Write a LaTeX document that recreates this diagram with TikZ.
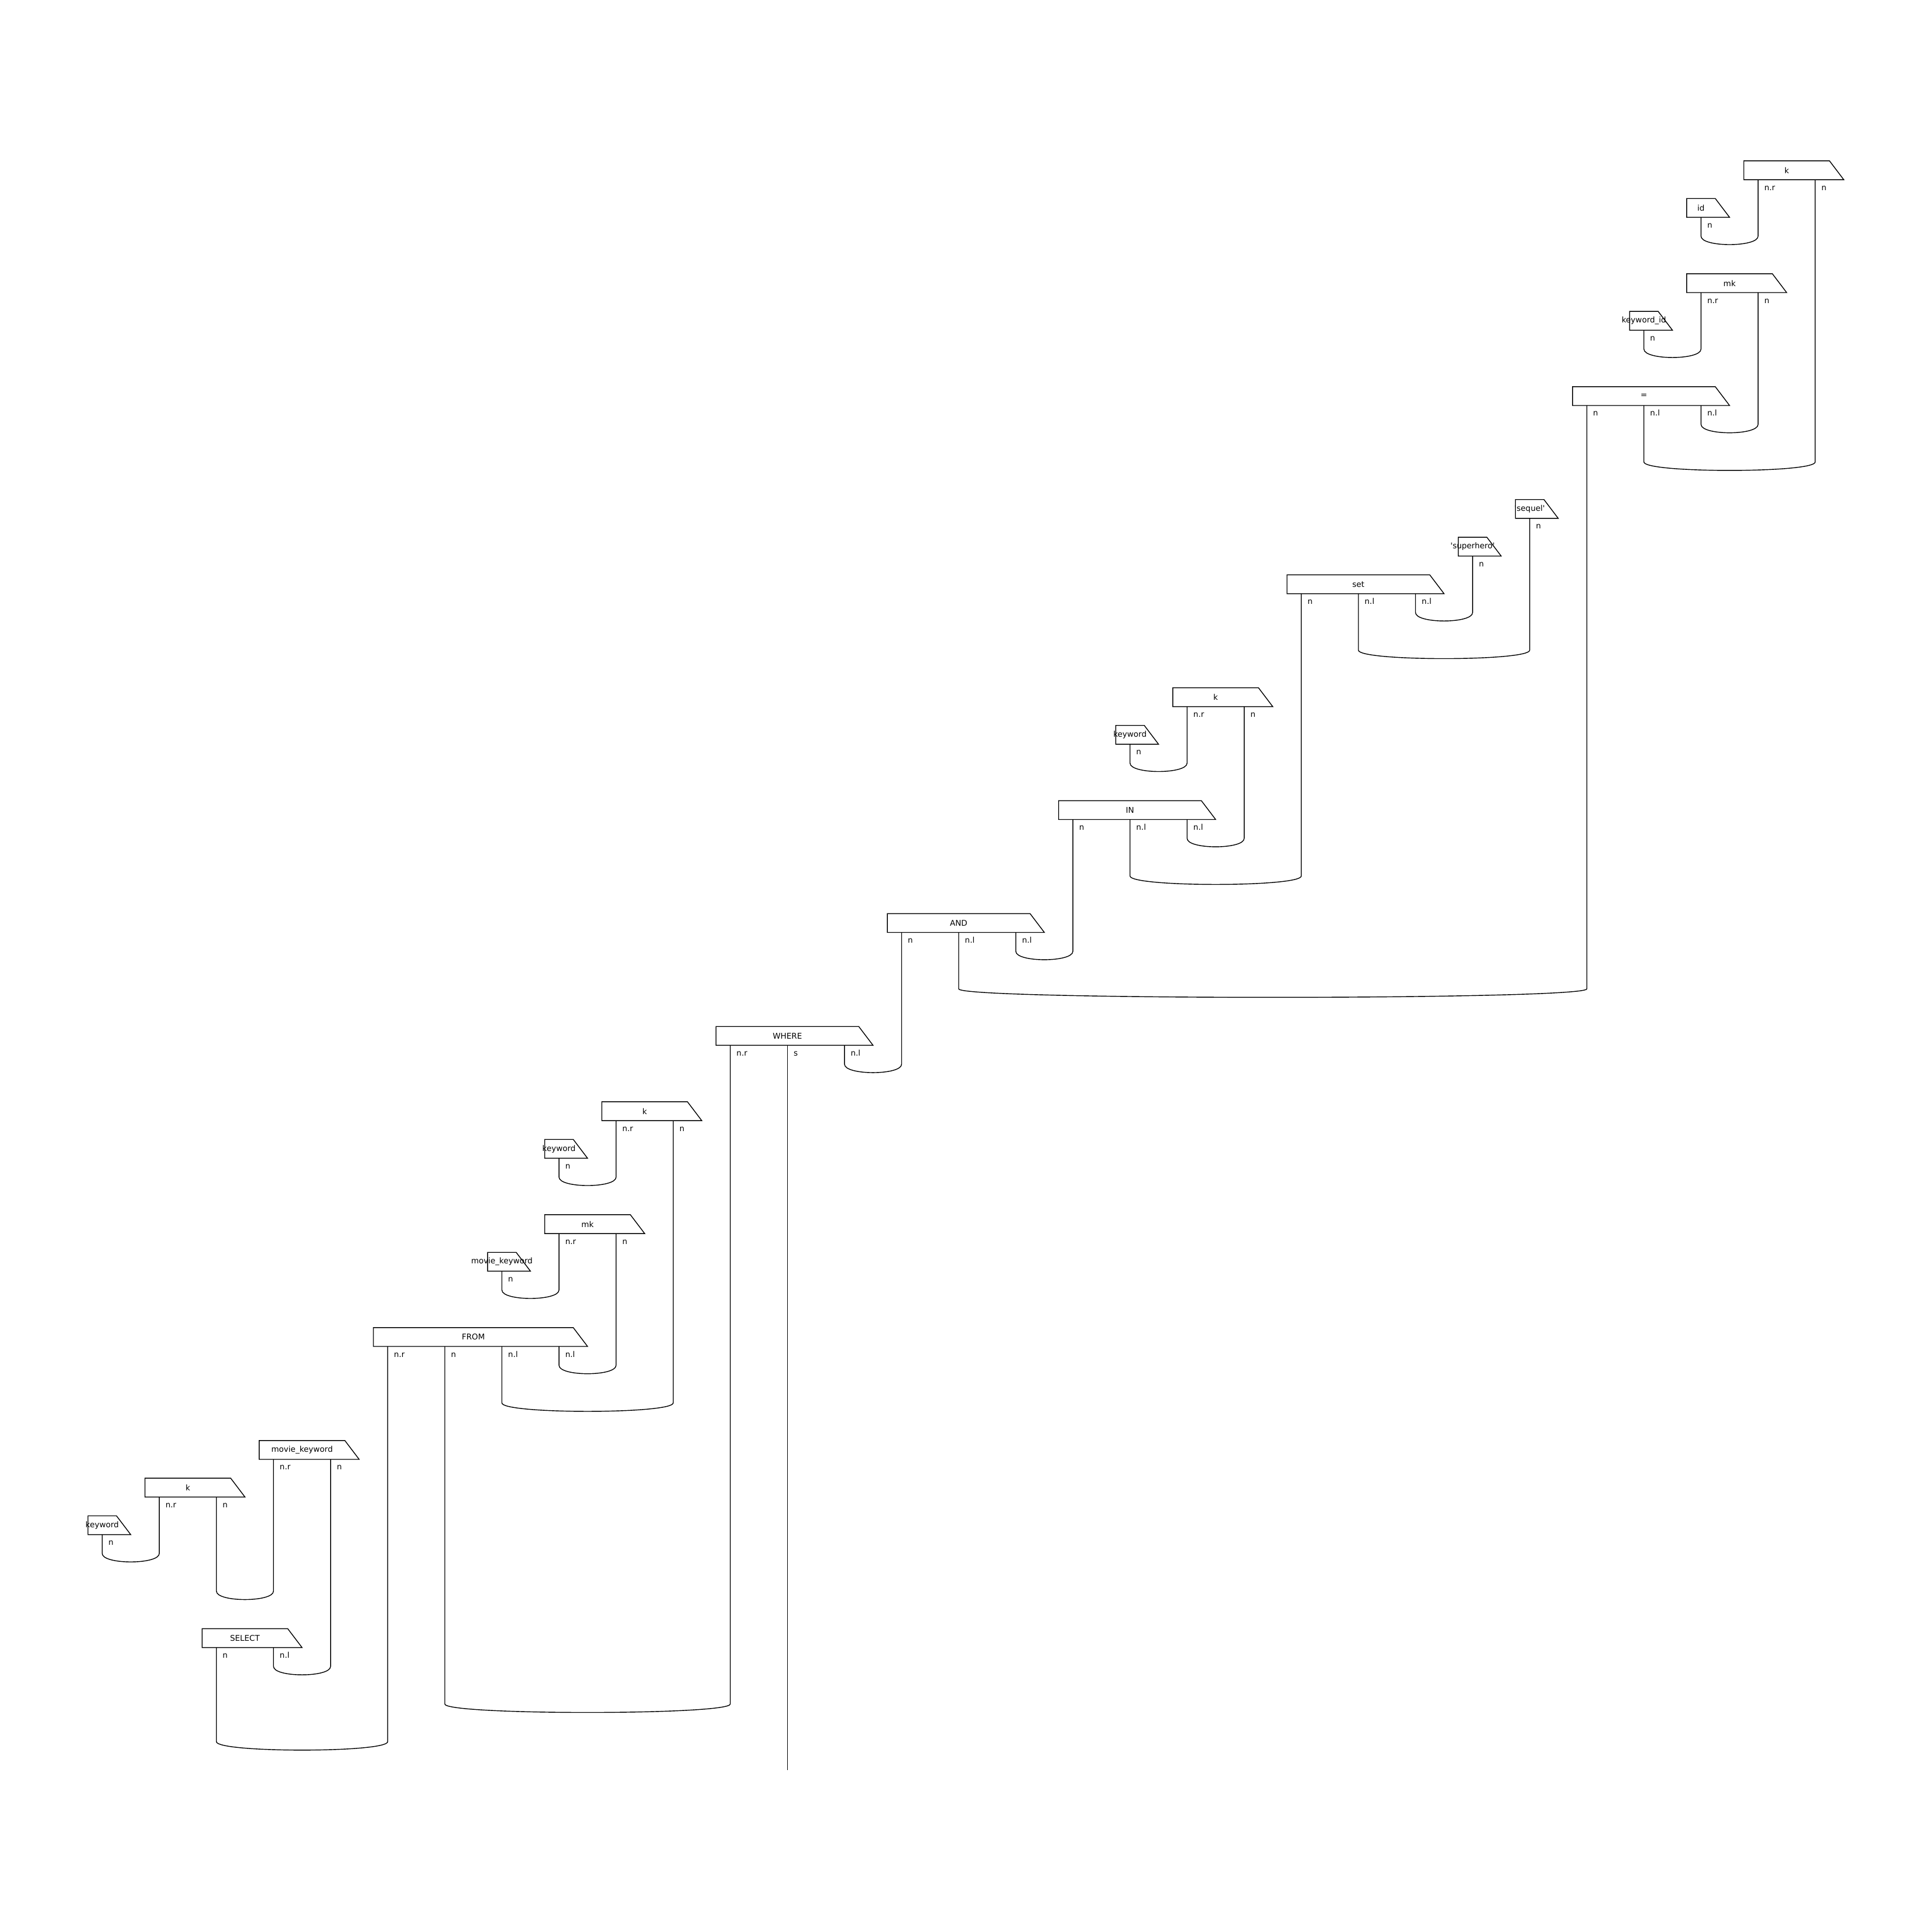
\documentclass[tikz,border=0pt]{standalone}
\usepackage{fontspec}
\setmainfont{DejaVu Sans}
\usetikzlibrary{calc}

\begin{document}
\begin{tikzpicture}
  [
    x=0.9756cm, y=0.6432cm,
    every node/.style={
      font=\fontsize{3.84}{4.6}\selectfont,
      inner sep=0pt, outer sep=0pt
    },
    wire/.style={
      thin, line join=miter
    },
    op/.style={
      rectangle,
      minimum height=0.3216cm,
      execute at begin node={\hbox to 0pt\bgroup\hss},
      execute at end node={\hss\egroup},
      append after command={
        \pgfextra{\draw [wire] (\tikzlastnode.north west) -- (\tikzlastnode.north east)
          -- ([xshift=0.2439cm]\tikzlastnode.south east) -- (\tikzlastnode.south west) -- cycle;}
      }
    },
    op1/.style={op, minimum width=0.4878cm},
    op2/.style={op, minimum width=1.4634cm},
    op3/.style={op, minimum width=2.4390cm},
    op4/.style={op, minimum width=3.4146cm},
    port/.style={
      anchor=base west, xshift=0.107cm, yshift=-0.18cm
    }
  ]
\useasboundingbox (-1.746cm,2.749cm) rectangle ++(33cm,-33cm);

% k.id = mk.keyword_id
\node (kA)   [op2] at (29.5,-0.25) {k};
\node (idA)  [op1] at (28,-1.25)   {id};
\node (mkA)  [op2] at (28.5,-3.25) {mk};
\node (kwid) [op1] at (27,-4.25)   {keyword\_id};
\node (eq)   [op3] at (27,-6.25)   {=};

\draw [wire] (28,0 |- idA.south) node (idA-n) [port] {n} -- (28,-2)
  .. controls +(0,-0.3) and +(0,-0.3) .. (29,-2) -- (29,0 |- kA.south) node (kA-nr) [port] {n.r};
\draw [wire] (27,0 |- kwid.south) node (kwid-n) [port] {n} -- (27,-5)
  .. controls +(0,-0.3) and +(0,-0.3) .. (28,-5) -- (28,0 |- mkA.south) node (mkA-nr) [port] {n.r};
\draw [wire] (28,0 |- eq.south) node (eq-nl2) [port] {n.l} -- (28,-7)
  .. controls +(0,-0.3) and +(0,-0.3) .. (29,-7) -- (29,0 |- mkA.south) node (mkA-n) [port] {n};
\draw [wire] (27,0 |- eq.south) node (eq-nl1) [port] {n.l} -- (27,-8)
  .. controls +(0,-0.3) and +(0,-0.3) .. (30,-8) -- (30,0 |- kA.south) node (kA-n) [port] {n};

% set
\node (seq)  [op1] at (25,-9.25)  {\textquotesingle sequel\textquotesingle};
\node (sup)  [op1] at (24,-10.25) {\textquotesingle superhero\textquotesingle};
\node (set)  [op3] at (22,-11.25) {set};

\draw [wire] (23,0 |- set.south) node (set-nl2) [port] {n.l} -- (23,-12)
  .. controls +(0,-0.3) and +(0,-0.3) .. (24,-12) -- (24,0 |- sup.south) node (sup-n) [port] {n};
\draw [wire] (22,0 |- set.south) node (set-nl1) [port] {n.l} -- (22,-13)
  .. controls +(0,-0.3) and +(0,-0.3) .. (25,-13) -- (25,0 |- seq.south) node (seq-n) [port] {n};

% IN
\node (kB)   [op2] at (19.5,-14.25) {k};
\node (kwB)  [op1] at (18,-15.25)   {keyword};
\node (in)   [op3] at (18,-17.25)   {IN};

\draw [wire] (18,0 |- kwB.south) node (kwB-n) [port] {n} -- (18,-16)
  .. controls +(0,-0.3) and +(0,-0.3) .. (19,-16) -- (19,0 |- kB.south) node (kB-nr) [port] {n.r};
\draw [wire] (19,0 |- in.south) node (in-nl2) [port] {n.l} -- (19,-18)
  .. controls +(0,-0.3) and +(0,-0.3) .. (20,-18) -- (20,0 |- kB.south) node (kB-n) [port] {n};
\draw [wire] (18,0 |- in.south) node (in-nl1) [port] {n.l} -- (18,-19)
  .. controls +(0,-0.3) and +(0,-0.3) .. (21,-19) -- (21,0 |- set.south) node (set-n) [port] {n};

% AND
\node (and)  [op3] at (15,-20.25) {AND};

\draw [wire] (16,0 |- and.south) node (and-nl2) [port] {n.l} -- (16,-21)
  .. controls +(0,-0.3) and +(0,-0.3) .. (17,-21) -- (17,0 |- in.south) node (in-n) [port] {n};
\draw [wire] (15,0 |- and.south) node (and-nl1) [port] {n.l} -- (15,-22)
  .. controls +(0,-0.3) and +(0,-0.3) .. (26,-22) -- (26,0 |- eq.south) node (eq-n) [port] {n};

% WHERE
\node (where) [op3] at (12,-23.25) {WHERE};
\coordinate (out) at (12,-42.75);

\draw [wire] (13,0 |- where.south) node (where-nl) [port] {n.l} -- (13,-24)
  .. controls +(0,-0.3) and +(0,-0.3) .. (14,-24) -- (14,0 |- and.south) node (and-n) [port] {n};
\draw [wire] (12,0 |- where.south) node (where-s) [port] {s} -- (out);

% FROM
\node (kC)   [op2] at (9.5,-25.25) {k};
\node (kwC)  [op1] at (8,-26.25)   {keyword};
\node (mkC)  [op2] at (8.5,-28.25) {mk};
\node (mkwC) [op1] at (7,-29.25)   {movie\_keyword};
\node (from) [op4] at (6.5,-31.25) {FROM};

\draw [wire] (8,0 |- kwC.south) node (kwC-n) [port] {n} -- (8,-27)
  .. controls +(0,-0.3) and +(0,-0.3) .. (9,-27) -- (9,0 |- kC.south) node (kC-nr) [port] {n.r};
\draw [wire] (7,0 |- mkwC.south) node (mkwC-n) [port] {n} -- (7,-30)
  .. controls +(0,-0.3) and +(0,-0.3) .. (8,-30) -- (8,0 |- mkC.south) node (mkC-nr) [port] {n.r};
\draw [wire] (8,0 |- from.south) node (from-nl2) [port] {n.l} -- (8,-32)
  .. controls +(0,-0.3) and +(0,-0.3) .. (9,-32) -- (9,0 |- mkC.south) node (mkC-n) [port] {n};
\draw [wire] (7,0 |- from.south) node (from-nl1) [port] {n.l} -- (7,-33)
  .. controls +(0,-0.3) and +(0,-0.3) .. (10,-33) -- (10,0 |- kC.south) node (kC-n) [port] {n};
\draw [wire] (6,0 |- from.south) node (from-n) [port] {n} -- (6,-41)
  .. controls +(0,-0.3) and +(0,-0.3) .. (11,-41) -- (11,0 |- where.south) node (where-nr) [port] {n.r};

% SELECT
\node (mkwD) [op2] at (3.5,-34.25) {movie\_keyword};
\node (kD)   [op2] at (1.5,-35.25) {k};
\node (kwD)  [op1] at (0,-36.25)   {keyword};
\node (sel)  [op2] at (2.5,-39.25) {SELECT};

\draw [wire] (0,0 |- kwD.south) node (kwD-n) [port] {n} -- (0,-37)
  .. controls +(0,-0.3) and +(0,-0.3) .. (1,-37) -- (1,0 |- kD.south) node (kD-nr) [port] {n.r};
\draw [wire] (2,0 |- kD.south) node (kD-n) [port] {n} -- (2,-38)
  .. controls +(0,-0.3) and +(0,-0.3) .. (3,-38) -- (3,0 |- mkwD.south) node (mkwD-nr) [port] {n.r};
\draw [wire] (3,0 |- sel.south) node (sel-nl) [port] {n.l} -- (3,-40)
  .. controls +(0,-0.3) and +(0,-0.3) .. (4,-40) -- (4,0 |- mkwD.south) node (mkwD-n) [port] {n};
\draw [wire] (2,0 |- sel.south) node (sel-n) [port] {n} -- (2,-42)
  .. controls +(0,-0.3) and +(0,-0.3) .. (5,-42) -- (5,0 |- from.south) node (from-nr) [port] {n.r};

\end{tikzpicture}
\end{document}
